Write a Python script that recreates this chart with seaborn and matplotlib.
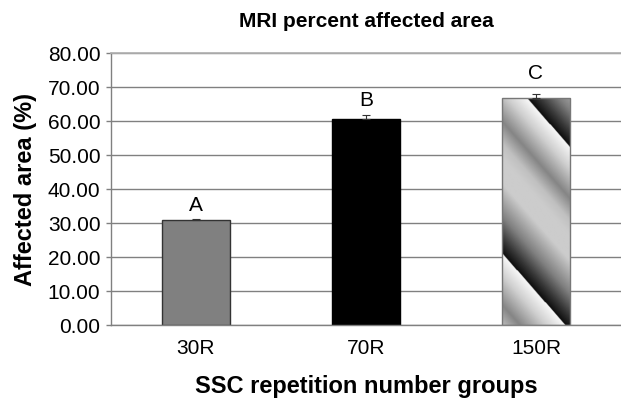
import numpy as np
import matplotlib
matplotlib.use("Agg")
import matplotlib.pyplot as plt
import seaborn as sns
from matplotlib.colors import LinearSegmentedColormap

# Data
groups = ["30R", "70R", "150R"]
values = [30.8, 60.5, 66.9]
errors = [0.5, 1.3, 1.0]
letters = ["A", "B", "C"]
yticks = [0, 10, 20, 30, 40, 50, 60, 70, 80]

bar_colors = ["#808080", "#000000", "#c8c8c8"]
edge_colors = ["#333333", "#000000", "#777777"]

sns.set_theme(style="white")
plt.rcParams["font.family"] = ["Liberation Sans", "DejaVu Sans"]
plt.rcParams["text.color"] = "black"
plt.rcParams["axes.labelcolor"] = "black"

fig = plt.figure(figsize=(6.21, 4.01), dpi=100)
ax = fig.add_axes([0.1787, 0.1895, 0.8213, 0.6783])

sns.barplot(x=groups, y=values, hue=groups, palette=bar_colors, legend=False,
            width=0.4, errorbar=None, ax=ax, zorder=2)

ax.set_xlim(-0.5, 2.5)
ax.set_ylim(0, 80)

for p, ec in zip(ax.patches, edge_colors):
    p.set_edgecolor(ec)
    p.set_linewidth(1)

# one-sided error bars
xs = np.arange(len(groups))
ax.errorbar(xs, values, yerr=[np.zeros(len(errors)), errors], fmt="none",
            ecolor="#333333", elinewidth=0.8, capsize=3, capthick=0.8, zorder=3)

# diagonal gradient fill for the 150R bar
bar = ax.patches[2]
x0, x1 = bar.get_x(), bar.get_x() + bar.get_width()
h = bar.get_height()
(px0, py0), (px1, py1) = ax.transData.transform([(x0, 0), (x1, h)])
W, H = abs(px1 - px0), abs(py1 - py0)
nr, nc = 400, 140
yy, xx = np.mgrid[0:nr, 0:nc]
ypx = yy * H / nr
xpx = xx * W / nc
phase = ((ypx - 1.15 * xpx) / 183.0 + 0.15) % 1.0
grad = LinearSegmentedColormap.from_list("grad", [
    (0.0, "#f7f7f7"), (0.12, "#cfcfcf"), (0.28, "#858585"), (0.40, "#c0c0c0"),
    (0.48, "#cccccc"), (0.62, "#cccccc"), (0.80, "#808080"), (0.92, "#383838"),
    (1.0, "#0d0d0d")])
img = ax.imshow(phase, cmap=grad, vmin=0, vmax=1, extent=(x0, x1, 0, h),
                aspect="auto", origin="upper", interpolation="bilinear", zorder=2)
img.set_clip_path(bar)
bar.set_facecolor("none")
bar.set_zorder(2.5)
ax.set_xlim(-0.5, 2.5)
ax.set_ylim(0, 80)

# significance letters
offsets = [4, 5, 11]
for x, v, e, t, o in zip(xs, values, errors, letters, offsets):
    ax.annotate(t, (x, v + e), xytext=(0, o * 0.72), textcoords="offset points",
                ha="center", va="bottom", fontsize=15)

ax.set_yticks(yticks)
ax.set_yticklabels([f"{v:.2f}" for v in yticks])
ax.yaxis.grid(True, color="#808080", linewidth=1)
ax.set_axisbelow(True)

ax.set_xticks(xs)
ax.set_xticklabels(groups)
ax.set_xticks([-0.5, 0.5, 1.5, 2.5], minor=True)
ax.tick_params(axis="x", which="major", length=0, pad=10, labelsize=15, labelcolor="black")
ax.tick_params(axis="x", which="minor", length=4.5, width=1, color="#808080", direction="out")
ax.tick_params(axis="y", length=3.6, width=1, color="#808080", direction="out",
               pad=4, labelsize=15, left=True, labelcolor="black")

for s in ["left", "bottom"]:
    ax.spines[s].set_color("#808080")
    ax.spines[s].set_linewidth(1)
ax.spines["top"].set_color("#b0b0b0")
ax.spines["right"].set_visible(False)

ax.set_title("MRI percent affected area", fontsize=15, fontweight="bold", pad=19)
ax.set_xlabel("SSC repetition number groups", fontsize=17, fontweight="bold", labelpad=12)
ax.set_ylabel("Affected area (%)", fontsize=17, fontweight="bold", labelpad=8)

fig.savefig("out.png", dpi=100)
